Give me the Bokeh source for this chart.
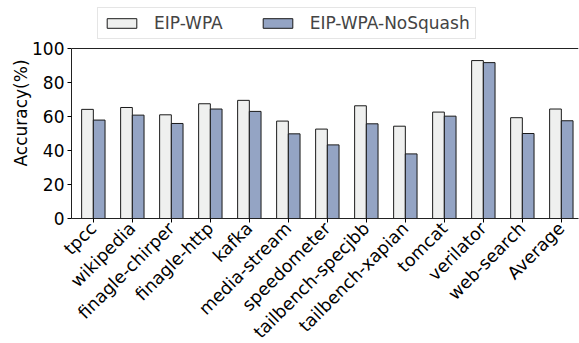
import math
from bokeh.plotting import figure
from bokeh.models import ColumnDataSource, Legend, LegendItem, FixedTicker, Range1d, Span
from bokeh.embed import file_html
from bokeh.resources import INLINE

categories = ["tpcc", "wikipedia", "finagle-chirper", "finagle-http", "kafka",
              "media-stream", "speedometer", "tailbench-specjbb", "tailbench-xapian",
              "tomcat", "verilator", "web-search", "Average"]
eip_wpa = [64.2, 65.3, 61.0, 67.5, 69.5, 57.3, 52.6, 66.3, 54.3, 62.6, 92.9, 59.3, 64.4]
eip_wpa_nosquash = [57.9, 60.8, 55.9, 64.4, 63.0, 49.8, 43.3, 55.7, 38.0, 60.2, 91.7, 50.0, 57.5]
y_ticks = [0, 20, 40, 60, 80, 100]
y_max = 100

bw = 0.3
xs = list(range(len(categories)))
src = ColumnDataSource(dict(
    x1=[x - bw / 2 for x in xs], x2=[x + bw / 2 for x in xs],
    a=eip_wpa, b=eip_wpa_nosquash))

FONT = "DejaVu Sans"
FRAME_H = 211
AXIS_H = 170
p = figure(width=579, height=352, output_backend="svg", toolbar_location=None,
           x_range=Range1d(-0.56, 12.44), y_range=Range1d(0, y_max * FRAME_H / AXIS_H),
           min_border_left=71, min_border_top=7, min_border_bottom=134, min_border_right=1)

r1 = p.vbar(x="x1", top="a", width=bw, source=src, fill_color="#eff0ef",
            line_color="#1a1a1a", line_width=1)
r2 = p.vbar(x="x2", top="b", width=bw, source=src, fill_color="#94a4c4",
            line_color="#1a1a1a", line_width=1)

p.xgrid.visible = False
p.ygrid.visible = False
p.outline_line_color = None
p.add_layout(Span(location=y_max, dimension="width", line_color="#222222", line_width=1))

p.xaxis.ticker = FixedTicker(ticks=xs)
p.xaxis.major_label_overrides = {i: c for i, c in enumerate(categories)}
p.xaxis.major_label_orientation = math.pi / 4
p.xaxis.major_label_text_font = FONT
p.xaxis.major_label_text_font_size = "17.5px"
p.xaxis.major_label_text_color = "black"
p.xaxis.major_label_standoff = 3
p.xaxis.minor_tick_line_color = None
p.xaxis.major_tick_out = 4
p.xaxis.major_tick_in = 0
p.xaxis.axis_line_color = "#222222"

p.yaxis.ticker = FixedTicker(ticks=y_ticks)
p.yaxis.bounds = (0, y_max)
p.yaxis.major_label_text_font = FONT
p.yaxis.major_label_text_font_size = "17px"
p.yaxis.major_label_text_color = "black"
p.yaxis.major_label_standoff = 3
p.yaxis.minor_tick_line_color = None
p.yaxis.major_tick_out = 4
p.yaxis.major_tick_in = 0
p.yaxis.axis_label = "Accuracy(%)"
p.yaxis.axis_label_text_font = FONT
p.yaxis.axis_label_text_font_size = "17px"
p.yaxis.axis_label_text_font_style = "normal"
p.yaxis.axis_label_text_color = "black"
p.yaxis.axis_label_standoff = -2
p.yaxis.axis_line_color = "#222222"

legend = Legend(items=[LegendItem(label="EIP-WPA", renderers=[r1]),
                       LegendItem(label="EIP-WPA-NoSquash", renderers=[r2])],
                orientation="horizontal", location=(26, FRAME_H - 32))
legend.label_text_font = FONT
legend.label_text_font_size = "17px"
legend.glyph_width = 37
legend.glyph_height = 12
legend.spacing = 36
legend.padding = 5
legend.margin = 0
legend.label_standoff = 14
legend.border_line_color = "#cccccc"
legend.border_line_width = 1
legend.background_fill_alpha = 1
p.add_layout(legend, "center")

open("out.html", "w").write(file_html(p, INLINE))
